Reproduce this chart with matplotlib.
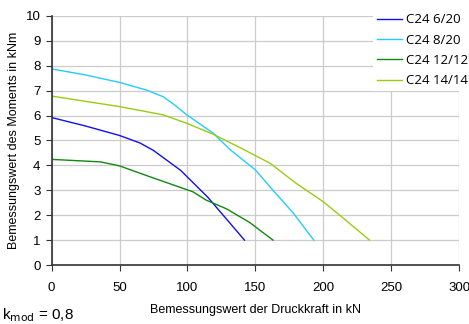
import matplotlib
matplotlib.use("Agg")
import matplotlib.pyplot as plt

plt.rcParams['font.family'] = ['Liberation Sans', 'DejaVu Sans']

# Bemessungswert der Druckkraft (kN) / Moment (kNm)
n_620 = [0, 25, 50, 65, 75, 85, 95, 115, 142]
m_620 = [5.92, 5.58, 5.2, 4.9, 4.6, 4.2, 3.8, 2.72, 1.0]

n_820 = [0, 25, 50, 70, 82, 90, 99, 119, 131, 150, 163, 178, 193]
m_820 = [7.87, 7.63, 7.33, 7.02, 6.76, 6.45, 6.05, 5.29, 4.65, 3.82, 3.0, 2.08, 1.0]

n_1212 = [0, 36, 50, 72, 104, 114, 129, 146, 163]
m_1212 = [4.24, 4.14, 3.98, 3.55, 2.94, 2.6, 2.25, 1.7, 1.0]

n_1414 = [0, 50, 82, 99, 119, 142, 161, 180, 200, 215, 234]
m_1414 = [6.78, 6.36, 6.03, 5.7, 5.25, 4.62, 4.08, 3.28, 2.54, 1.87, 1.0]

labels = ["C24 6/20", "C24 8/20", "C24 12/12", "C24 14/14"]
colors = ["#1010ee", "#22ccff", "#118811", "#99cc11"]

fig = plt.figure(figsize=(4.69, 3.24), dpi=100)
ax = fig.add_axes([0.110, 0.182, 0.869, 0.769])

series = [(n_620, m_620), (n_820, m_820), (n_1212, m_1212), (n_1414, m_1414)]
for (x, y), lab, c in zip(series, labels, colors):
    ax.plot(x, y, color=c, lw=1.0, label=lab)

ax.set_xlim(0, 300)
ax.set_ylim(0, 10)
ax.set_xticks(range(0, 301, 50))
ax.set_yticks(range(0, 11))
ax.grid(True, color="#cccccc", lw=0.9)
ax.set_axisbelow(True)
for s in ["top", "right"]:
    ax.spines[s].set_visible(False)
for s in ["left", "bottom"]:
    ax.spines[s].set_color("#333333")
    ax.spines[s].set_linewidth(1.2)
ax.tick_params(labelsize=9.5, length=4, color="#333333", pad=8)
ax.tick_params(axis="y", pad=4)

ax.set_xlabel("Bemessungswert der Druckkraft in kN", fontsize=9)
ax.xaxis.set_label_coords(0.5, -0.155)
ax.set_ylabel("Bemessungswert des Moments in kNm", fontsize=9)
ax.yaxis.set_label_coords(-0.077, 0.5)

leg = fig.legend(loc="upper left", bbox_to_anchor=(0.782, 0.991), frameon=True,
                 fancybox=False, framealpha=1, edgecolor="white",
                 prop={"family": "Open Sans", "size": 9.5}, handlelength=1.9,
                 handletextpad=0.25, labelspacing=0.55, borderpad=0.3)
leg.get_frame().set_linewidth(0)

fig.text(0.005, 0.015, r"k$_{\mathrm{mod}}$ = 0,8", fontsize=11)

fig.savefig("out.png", dpi=100)
